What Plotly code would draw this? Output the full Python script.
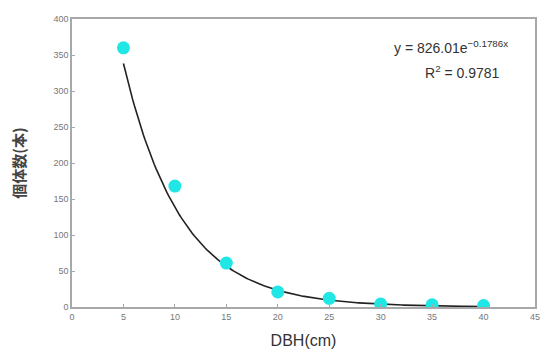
import numpy as np
import plotly.graph_objects as go

# Observed counts per diameter class
dbh = [5, 10, 15, 20, 25, 30, 35, 40]
counts = [360, 168, 61, 21, 12, 4, 3, 2]

# Exponential trend-line parameters
fit_a = 826.01
fit_b = -0.1786
fit_r2 = 0.9781

x_tick_vals = list(range(0, 46, 5))
y_tick_vals = list(range(0, 401, 50))

trend_x = np.linspace(min(dbh), max(dbh), 200)
trend_y = fit_a * np.exp(fit_b * trend_x)

fig = go.Figure()
fig.add_trace(go.Scatter(
    x=trend_x, y=trend_y, mode="lines",
    line=dict(color="#222222", width=1.6),
    hoverinfo="skip", showlegend=False,
))
fig.add_trace(go.Scatter(
    x=dbh, y=counts, mode="markers",
    marker=dict(color="#20E6E6", size=13, line=dict(width=0)),
    showlegend=False,
))

axis_common = dict(
    showgrid=False, zeroline=False, showline=True, mirror=True,
    linecolor="#a8a8a8", linewidth=1.5,
    ticks="inside", ticklen=3, tickcolor="#a8a8a8",
    tickfont=dict(family="Liberation Sans, Arial", size=9, color="#777777"),
)

fig.update_layout(
    width=545, height=360,
    margin=dict(l=72, r=5, t=19, b=53),
    paper_bgcolor="white", plot_bgcolor="white",
    xaxis=dict(
        range=[0, 45], tickvals=x_tick_vals, **axis_common,
        title=dict(text="DBH(cm)", standoff=14,
                   font=dict(family="Liberation Sans, Arial", size=16, color="#333333")),
    ),
    yaxis=dict(
        range=[0, 400], tickvals=y_tick_vals, **axis_common,
        title=dict(text="<b>個体数(本)</b>", standoff=24,
                   font=dict(family="Noto Sans CJK JP", size=15, color="#444444")),
    ),
    annotations=[
        dict(
            x=0.945, y=0.903, xref="paper", yref="paper",
            xanchor="right", yanchor="middle", showarrow=False,
            text=f"y = {fit_a:.2f}e<sup>{fit_b:.4f}x</sup>".replace("-", "\u2212"),
            font=dict(family="Liberation Sans, Arial", size=14, color="#333333"),
        ),
        dict(
            x=0.928, y=0.816, xref="paper", yref="paper",
            xanchor="right", yanchor="middle", showarrow=False,
            text=f"R<sup>2</sup> = {fit_r2:.4f}",
            font=dict(family="Liberation Sans, Arial", size=14, color="#333333"),
        ),
    ],
)

fig.write_html("out.html")
